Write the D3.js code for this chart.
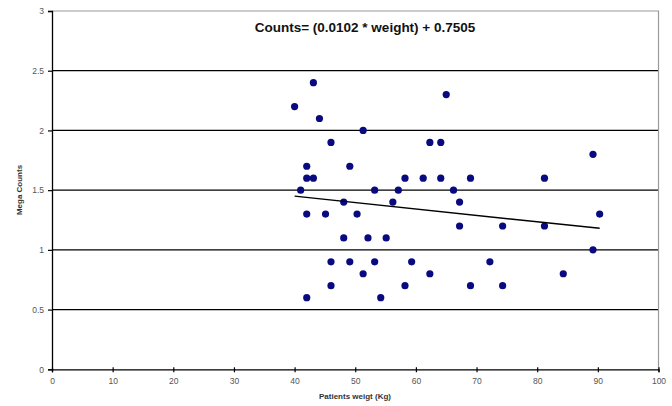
<!DOCTYPE html>
<html><head><meta charset="utf-8">
<script src="https://cdn.jsdelivr.net/npm/d3@7"></script>
<style>body{margin:0;background:#fff}svg{display:block}</style>
</head><body>
<svg id="c" width="672" height="406"></svg>
<script>
const title = "Counts= (0.0102 * weight) + 0.7505";
const xTitle = "Patients weigt (Kg)";
const yTitle = "Mega Counts";
const xTicks = [0,10,20,30,40,50,60,70,80,90,100];
const yTicks = [0,0.5,1,1.5,2,2.5,3];
const weight = [40.0,43.1,44.1,51.3,46.0,65.0,62.3,64.1,42.0,49.1,
                42.0,43.1,58.2,61.2,64.1,69.0,41.0,53.2,57.1,66.2,
                48.1,56.2,67.2,42.0,45.1,50.3,67.2,48.1,52.1,55.1,
                46.0,49.1,53.2,59.3,51.3,62.3,46.0,58.2,69.0,42.0,
                54.2,89.2,81.2,90.3,74.3,81.2,89.2,72.2,84.3,74.3];
const counts = [2.2,2.4,2.1,2.0,1.9,2.3,1.9,1.9,1.7,1.7,
                1.6,1.6,1.6,1.6,1.6,1.6,1.5,1.5,1.5,1.5,
                1.4,1.4,1.4,1.3,1.3,1.3,1.2,1.1,1.1,1.1,
                0.9,0.9,0.9,0.9,0.8,0.8,0.7,0.7,0.7,0.6,
                0.6,1.8,1.6,1.3,1.2,1.2,1.0,0.9,0.8,0.7];
const trendX = [40, 90.3];
const trendY = [1.45, 1.18];

const svg = d3.select("#c");
const L = 52, R = 658.5, T = 11, B = 369.3;
const x = d3.scaleLinear().domain([0,100]).range([L,R]);
const y = d3.scaleLinear().domain([0,3]).range([B,T]);

// gridlines
svg.append("g").selectAll("line").data(yTicks.filter(v=>v>0 && v<3)).join("line")
  .attr("x1",L).attr("x2",R).attr("y1",d=>y(d)).attr("y2",d=>y(d))
  .attr("stroke","#000").attr("stroke-width",1.2);
// plot border top/right (gray)
svg.append("path").attr("d",`M${L},${y(3)}H${R}V${B}`).attr("fill","none")
  .attr("stroke","#9a9a9a").attr("stroke-width",1.2);

// axes
const yAxis = d3.axisLeft(y).tickValues(yTicks).tickSize(4).tickPadding(4).tickFormat(d3.format("~g"));
const gy = svg.append("g").attr("transform",`translate(${L},0)`).call(yAxis);
const xAxis = d3.axisBottom(x).tickValues(xTicks).tickSize(3).tickPadding(6).tickFormat(d3.format("d"));
const gx = svg.append("g").attr("transform",`translate(0,${B})`).call(xAxis);
[gx,gy].forEach(g=>{
  g.select(".domain").attr("stroke","#000").attr("stroke-width",1.3);
  g.selectAll(".tick line").attr("stroke","#000").attr("stroke-width",1.2);
  g.selectAll("text").attr("font-family","Arial, Liberation Sans, sans-serif")
    .attr("font-size",8.5).attr("fill","#555");
});
gx.selectAll(".tick line").attr("y1",-2).attr("y2",3);

// points
svg.append("g").selectAll("circle").data(weight.map((w,i)=>[w,counts[i]])).join("circle")
  .attr("cx",d=>x(d[0])).attr("cy",d=>y(d[1])).attr("r",3.6)
  .attr("fill","#0a0a80");

// trendline
svg.append("line").attr("x1",x(trendX[0])).attr("y1",y(trendY[0]))
  .attr("x2",x(trendX[1])).attr("y2",y(trendY[1]))
  .attr("stroke","#000").attr("stroke-width",1.5);

// titles
svg.append("text").attr("x",365).attr("y",32).attr("text-anchor","middle")
  .attr("font-family","Arial, Liberation Sans, sans-serif").attr("font-weight","bold")
  .attr("font-size",13.5).attr("fill","#111").text(title);
svg.append("text").attr("x",355).attr("y",399).attr("text-anchor","middle")
  .attr("font-family","Arial, Liberation Sans, sans-serif").attr("font-weight","bold")
  .attr("font-size",8).attr("fill","#333").text(xTitle);
svg.append("text").attr("transform","translate(22,190) rotate(-90)").attr("text-anchor","middle")
  .attr("font-family","Arial, Liberation Sans, sans-serif").attr("font-weight","bold")
  .attr("font-size",8).attr("fill","#333").text(yTitle);
</script>
</body></html>
